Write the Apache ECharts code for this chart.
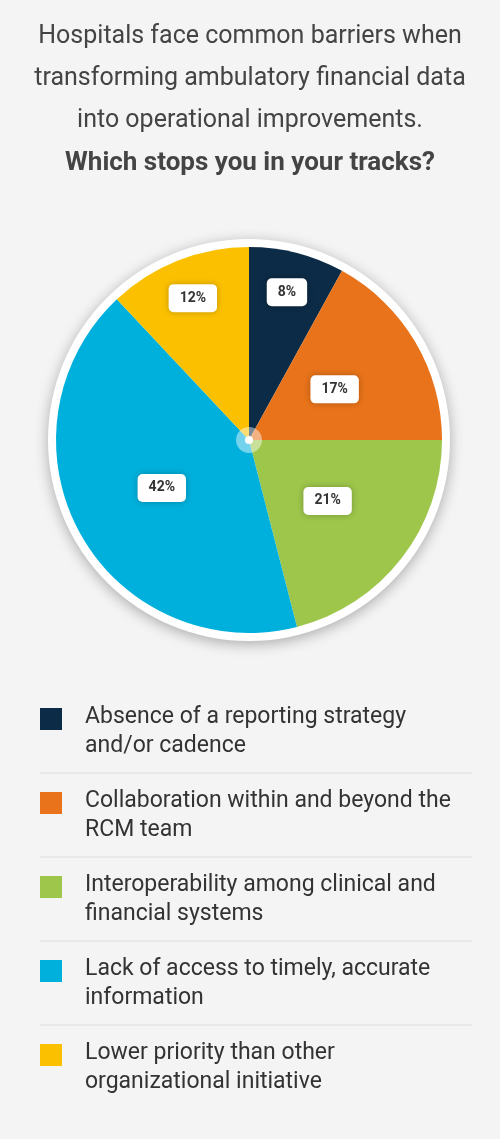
<!DOCTYPE html>
<html><head><meta charset="utf-8">
<script src="https://cdn.jsdelivr.net/npm/echarts@6/dist/echarts.min.js"></script>
<style>html,body{margin:0;padding:0;background:#f4f4f4}#c{width:500px;height:1139px}</style>
</head><body><div id="c"></div>
<script>
const categories = [
  "Absence of a reporting strategy\nand/or cadence",
  "Collaboration within and beyond the\nRCM team",
  "Interoperability among clinical and\nfinancial systems",
  "Lack of access to timely, accurate\ninformation",
  "Lower priority than other\norganizational initiative"
];
const values = [8, 17, 21, 42, 12];
const colors = ["#0c2b46", "#e8731a", "#9dc64a", "#00b0dc", "#fbc100"];
const outerLabelIdx = [0, 4];

const chart = echarts.init(document.getElementById('c'), null, {renderer:'canvas'});
const cx = 249, cy = 440, R = 193;
const lbl = {show:true, position:'inside', formatter:'{c}%', color:'#333', fontFamily:'Roboto', fontWeight:'bold', fontSize:14,
  backgroundColor:'#fff', borderRadius:5, padding:[7,11], shadowColor:'rgba(0,0,0,0.25)', shadowBlur:6};
const graphic = [
  {type:'text', x:250, y:16, style:{text:'Hospitals face common barriers when\ntransforming ambulatory financial data\ninto operational improvements.', fontFamily:'Roboto', fontSize:25, lineHeight:42, fill:'#444', align:'center'}},
  {type:'text', x:250, y:150, style:{text:'Which stops you in your tracks?', fontFamily:'Roboto', fontSize:26, fontWeight:'bold', fill:'#444', align:'center'}},
  {type:'circle', shape:{cx:cx, cy:cy, r:R+8}, style:{fill:'#fff', shadowColor:'rgba(0,0,0,0.3)', shadowBlur:14, shadowOffsetY:3}, z:-1},
  {type:'circle', shape:{cx:cx, cy:cy, r:13}, style:{fill:'rgba(255,255,255,0.45)'}, z:10},
  {type:'circle', shape:{cx:cx, cy:cy, r:4}, style:{fill:'#fff'}, z:11}
];
const rowTop = 703, rowH = 84;
categories.forEach((c, i) => {
  const y = rowTop + i*rowH;
  graphic.push({type:'rect', shape:{x:40, y:y+5, width:22, height:22}, style:{fill:colors[i]}});
  graphic.push({type:'text', x:85, y:y, style:{text:c, fontFamily:'Roboto', fontSize:23, lineHeight:29, fill:'#333'}});
  if (i < categories.length-1) graphic.push({type:'line', shape:{x1:40, y1:y+70, x2:472, y2:y+70}, style:{stroke:'#dcdcdc', lineWidth:1}});
});
chart.setOption({
  backgroundColor:'#f4f4f4',
  animation:false,
  graphic: graphic,
  series:[
    {type:'pie', center:[cx,cy], radius:[0,R], startAngle:90, clockwise:true, silent:true,
     label:lbl, labelLine:{show:false},
     data: values.map((v,i)=>({value:v, name:categories[i], itemStyle:{color:colors[i]}, label:{show:!outerLabelIdx.includes(i)}}))},
    {type:'pie', center:[cx,cy], radius:[0,R*1.55], startAngle:90, clockwise:true, silent:true, z:5,
     label:lbl, labelLine:{show:false},
     data: values.map((v,i)=>({value:v, itemStyle:{color:'transparent'}, label:{show:outerLabelIdx.includes(i)}}))}
  ]
});
</script></body></html>
